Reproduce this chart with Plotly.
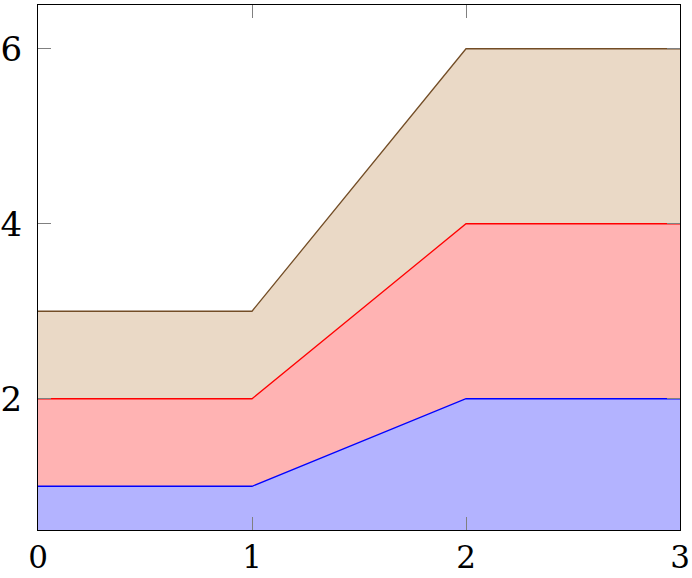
import plotly.graph_objects as go

x = [0, 1, 2, 3]
blue_vals = [1, 1, 2, 2]
red_vals = [1, 1, 2, 2]
brown_vals = [1, 1, 2, 2]
x_ticks = [0, 1, 2, 3]
y_ticks = [2, 4, 6]

fig = go.Figure()
series = [
    (blue_vals, "rgb(0,0,255)", "rgb(179,179,255)"),
    (red_vals, "rgb(255,0,0)", "rgb(255,179,179)"),
    (brown_vals, "rgb(115,77,38)", "rgb(234,217,198)"),
]
for vals, lc, fc in series:
    fig.add_trace(go.Scatter(
        x=x, y=vals, mode="lines", stackgroup="one",
        line=dict(color=lc, width=1.3), fillcolor=fc,
        showlegend=False, hoverinfo="skip"))

font = dict(family="DejaVu Serif", size=34, color="black")
xfont = dict(family="DejaVu Serif", size=31, color="black")
fig.update_layout(
    width=692, height=578,
    margin=dict(l=38, r=12, t=5, b=48),
    plot_bgcolor="white", paper_bgcolor="white",
    font=font,
)
fig.update_xaxes(
    range=[0, 3], tickvals=x_ticks, ticks="inside", ticklen=13, tickwidth=1,
    tickcolor="rgb(128,128,128)", showline=True, linecolor="black", linewidth=1.3,
    mirror="ticks", showgrid=False, zeroline=False, tickfont=xfont,
    ticklabelstandoff=0, automargin=False,
)
fig.update_yaxes(
    range=[0.5, 6.5], tickvals=y_ticks, ticks="inside", ticklen=13, tickwidth=1,
    tickcolor="rgb(128,128,128)", showline=True, linecolor="black", linewidth=1.3,
    mirror="ticks", showgrid=False, zeroline=False, tickfont=font,
    ticklabelstandoff=8, automargin=False,
)
fig.write_html("out.html")
